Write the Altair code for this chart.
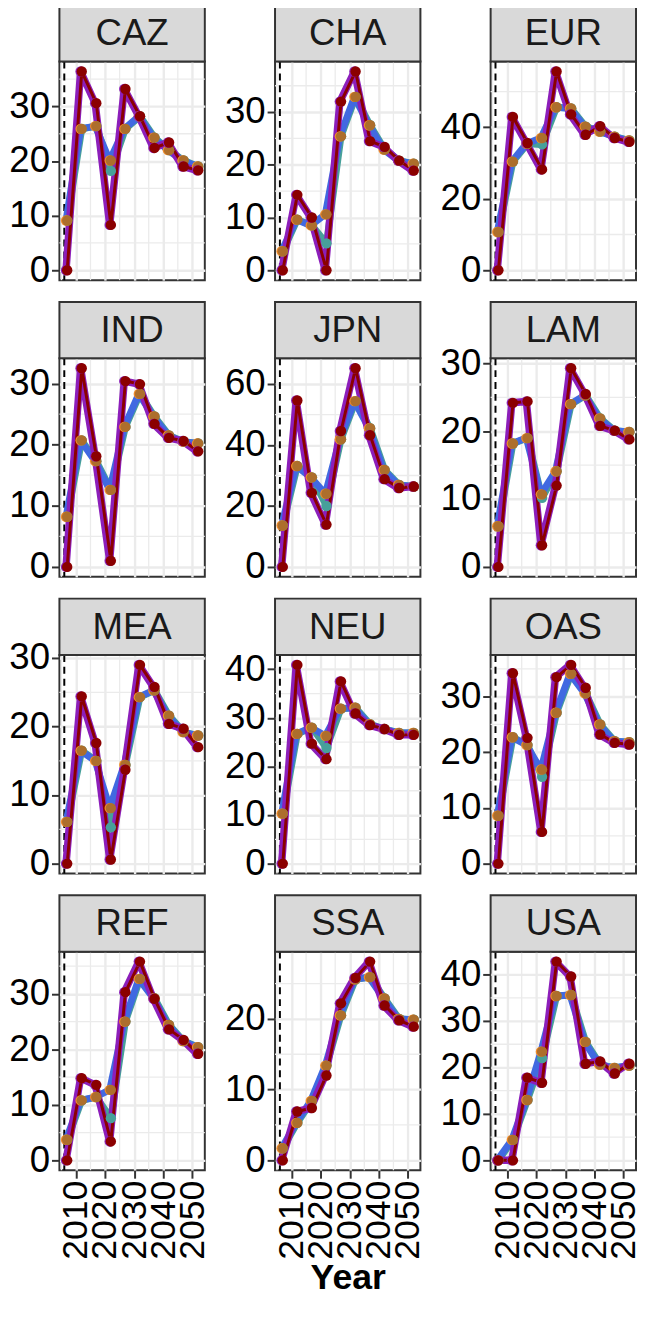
import altair as alt
import pandas as pd

# ---------------- data ----------------
YEARS = [2005, 2010, 2015, 2020, 2025, 2030, 2035, 2040, 2045, 2050]
REGIONS = ["CAZ", "CHA", "EUR", "IND", "JPN", "LAM",
           "MEA", "NEU", "OAS", "REF", "SSA", "USA"]

# A: purple / dark red scenarios, B: blue / orange / brown scenarios, T: teal scenario
CAZ_A = [0, 36.4, 30.6, 8.3, 33.2, 28.2, 22.4, 23.4, 19.0, 18.3]
CAZ_B = [9.1, 25.9, 26.4, 20.1, 25.9, 28.2, 24.3, 22.0, 20.1, 19.0]
CAZ_T = [9.1, 25.9, 26.4, 18.2, 25.9, 28.2, 24.3, 22.0, 20.1, 19.0]

CHA_A = [0, 14.3, 10.0, 0, 32.0, 37.7, 24.5, 23.4, 20.8, 18.9]
CHA_B = [3.6, 9.6, 8.5, 10.6, 25.4, 32.9, 27.5, 22.9, 20.8, 20.2]
CHA_T = [3.6, 9.6, 8.5, 5.1, 25.4, 32.9, 27.5, 22.9, 20.8, 20.2]

EUR_A = [0, 42.9, 35.6, 28.2, 55.6, 43.6, 37.9, 40.3, 37.0, 35.9]
EUR_B = [10.7, 30.4, 35.4, 37.0, 45.6, 45.3, 40.2, 38.8, 37.4, 36.3]
EUR_T = [10.7, 30.4, 35.4, 35.2, 45.6, 45.3, 40.2, 38.8, 37.4, 36.3]

IND_A = [0, 32.5, 18.1, 1.0, 30.4, 29.9, 23.4, 21.1, 20.6, 18.9]
IND_B = [8.2, 20.7, 17.3, 12.6, 22.9, 28.3, 24.6, 21.5, 20.5, 20.2]
IND_T = [8.2, 20.7, 17.3, 12.6, 22.9, 28.3, 24.6, 21.5, 20.5, 20.2]

JPN_A = [0, 54.6, 24.3, 13.9, 44.6, 65.2, 43.2, 28.8, 25.9, 26.4]
JPN_B = [13.6, 33.1, 29.4, 24.0, 41.9, 54.4, 45.5, 31.8, 26.9, 26.4]
JPN_T = [13.6, 33.1, 29.4, 20.0, 41.9, 54.4, 45.5, 31.8, 26.9, 26.4]

LAM_A = [0, 24.2, 24.4, 3.2, 12.0, 29.3, 25.5, 20.8, 20.1, 18.8]
LAM_B = [6.0, 18.2, 19.0, 10.7, 14.1, 24.0, 25.3, 21.9, 20.1, 19.9]
LAM_T = [6.0, 18.2, 19.0, 10.2, 14.1, 24.0, 25.3, 21.9, 20.1, 19.9]

MEA_A = [0, 24.4, 17.6, 0.6, 13.7, 29.0, 25.8, 20.4, 19.7, 17.0]
MEA_B = [6.1, 16.5, 15.0, 8.1, 14.4, 24.3, 25.3, 21.6, 19.2, 18.7]
MEA_T = [6.1, 16.5, 15.0, 5.3, 14.4, 24.3, 25.3, 21.6, 19.2, 18.7]

NEU_A = [0, 40.9, 24.7, 21.5, 37.5, 30.9, 28.5, 27.7, 26.5, 26.5]
NEU_B = [10.3, 26.7, 28.0, 26.3, 31.9, 32.1, 28.7, 27.7, 26.9, 26.9]
NEU_T = [10.3, 26.7, 28.0, 23.8, 31.9, 32.1, 28.7, 27.7, 26.9, 26.9]

OAS_A = [0, 34.2, 22.6, 5.7, 33.5, 35.7, 31.6, 23.2, 21.7, 21.4]
OAS_B = [8.6, 22.7, 21.3, 16.9, 27.1, 34.1, 30.6, 25.0, 22.0, 21.8]
OAS_T = [8.6, 22.7, 21.3, 15.6, 27.1, 34.1, 30.6, 25.0, 22.0, 21.8]

REF_A = [0, 14.8, 13.6, 3.4, 30.3, 35.8, 29.1, 23.6, 21.7, 19.2]
REF_B = [3.7, 10.8, 11.4, 12.7, 25.0, 32.7, 29.2, 24.4, 21.5, 20.4]
REF_T = [3.7, 10.8, 11.4, 7.6, 25.0, 32.7, 29.2, 24.4, 21.5, 20.4]

SSA_A = [0, 6.9, 7.4, 12.0, 22.2, 25.8, 28.1, 21.9, 19.8, 18.9]
SSA_B = [1.7, 5.3, 8.4, 13.4, 20.5, 25.6, 25.9, 22.9, 20.0, 19.9]
SSA_T = [1.7, 5.3, 8.4, 13.4, 20.5, 25.6, 25.9, 22.9, 20.0, 19.9]

USA_A = [0, 0, 17.8, 16.7, 42.8, 39.6, 20.8, 21.3, 18.7, 20.8]
USA_B = [0, 4.4, 13.0, 23.4, 35.4, 35.6, 25.5, 20.6, 19.9, 20.4]
USA_T = [0, 4.4, 13.0, 22.0, 35.4, 35.6, 25.5, 20.6, 19.9, 20.4]

# y tick labels per panel
CAZ_TICKS = [0, 10, 20, 30]
CHA_TICKS = [0, 10, 20, 30]
EUR_TICKS = [0, 20, 40]
IND_TICKS = [0, 10, 20, 30]
JPN_TICKS = [0, 20, 40, 60]
LAM_TICKS = [0, 10, 20, 30]
MEA_TICKS = [0, 10, 20, 30]
NEU_TICKS = [0, 10, 20, 30, 40]
OAS_TICKS = [0, 10, 20, 30]
REF_TICKS = [0, 10, 20, 30]
SSA_TICKS = [0, 10, 20]
USA_TICKS = [0, 10, 20, 30, 40]

X_TICKS = [2010, 2020, 2030, 2040, 2050]
X_MINOR = [2005, 2015, 2025, 2035, 2045]
VLINE_YEAR = [2006]

# ---------------- styling ----------------
FONT = "Liberation Sans"
FS = 37      # y labels and strip text
FSX = 36     # x labels and x title
W, H, STRIP_H = 147, 221, 57
DODGE = {"purple": 1.6, "darkred": 2.0, "blue": 1.6, "teal": 2.0,
         "orange": 1.6, "brown": 2.0}
COLORS = {"purple": "#8C1EBA", "darkred": "#8B0000", "blue": "#4169E1",
          "teal": "#47A09A", "orange": "#F28C28", "brown": "#AD6E2C"}
SOURCE = {"purple": "A", "darkred": "A", "blue": "B", "teal": "T",
          "orange": "B", "brown": "B"}

g = globals()
rows = []
for r in REGIONS:
    for s, src in SOURCE.items():
        vals = g[f"{r}_{src}"]
        for yr, v in zip(YEARS, vals):
            rows.append({"region": r, "series": s, "year": yr,
                         "x": yr + DODGE[s], "value": v})
df = pd.DataFrame(rows)

xmin, xmax = df["x"].min(), df["x"].max()
xr = xmax - xmin
XDOM = [xmin - 0.05 * xr, xmax + 0.05 * xr]

GRID = "#EBEBEB"
AX = "#333333"


def panel(region, bottom, show_title):
    d = df[df.region == region]
    lo, hi = d["value"].min(), d["value"].max()
    rr = hi - lo
    ydom = [lo - 0.05 * rr, hi + 0.05 * rr]
    majors = g[f"{region}_TICKS"]
    step = majors[1] - majors[0]
    minors = [m + step / 2 for m in [majors[0] - step] + majors]
    minors = [m for m in minors if ydom[0] < m < ydom[1]]

    xs = alt.Scale(domain=XDOM, nice=False, zero=False)
    ys = alt.Scale(domain=ydom, nice=False, zero=False)
    if bottom:
        xaxis = alt.Axis(values=X_TICKS, format="d", labelAngle=270,
                         labelAlign="right", labelBaseline="middle",
                         labelFontSize=FSX, labelColor="black", labelFont=FONT,
                         labelPadding=2, labelOverlap=False, labelFlush=False,
                         ticks=True, tickSize=8, tickWidth=2, tickColor=AX,
                         domain=False, grid=True, gridColor=GRID, gridWidth=2.4,
                         title="Year" if show_title else None,
                         titleFontSize=FSX, titleFontWeight="bold",
                         titleFont=FONT, titleColor="black", titlePadding=1)
    else:
        xaxis = alt.Axis(values=X_TICKS, labels=False, ticks=False, domain=False,
                         grid=True, gridColor=GRID, gridWidth=2.4, title=None)
    yaxis = alt.Axis(values=majors, format="d", labelFontSize=FS,
                     labelColor="black", labelFont=FONT, labelPadding=2,
                     labelOverlap=False, labelFlush=False,
                     ticks=True, tickSize=8, tickWidth=2, tickColor=AX,
                     domain=False, grid=True, gridColor=GRID, gridWidth=2.4,
                     title=None)

    def X(field):
        return alt.X(f"{field}:Q", scale=xs, axis=xaxis)

    def Y(field):
        return alt.Y(f"{field}:Q", scale=ys, axis=yaxis)

    base = alt.Chart(d)
    layers = []
    layers.append(alt.Chart(pd.DataFrame({"gx": X_MINOR})).mark_rule(
        color=GRID, strokeWidth=1.3).encode(x=X("gx")))
    layers.append(alt.Chart(pd.DataFrame({"gy": minors})).mark_rule(
        color=GRID, strokeWidth=1.3).encode(y=Y("gy")))
    layers.append(alt.Chart(pd.DataFrame({"vx": VLINE_YEAR})).mark_rule(
        color="black", strokeWidth=2, strokeDash=[7, 5]).encode(x=X("vx")))
    for s, w in [("teal", 7), ("blue", 7), ("purple", 7.5), ("darkred", 3)]:
        layers.append(base.transform_filter(alt.datum.series == s).mark_line(
            color=COLORS[s], strokeWidth=w, strokeJoin="round").encode(
            x=X("x"), y=Y("value")))
    for s in ["teal", "orange", "brown", "purple", "darkred"]:
        layers.append(base.transform_filter(alt.datum.series == s).mark_circle(
            color=COLORS[s], opacity=1, size=110).encode(x=X("x"), y=Y("value")))
    strip = alt.Chart(pd.DataFrame({"region": [region]}))
    layers.append(strip.mark_rect(fill="#D9D9D9", stroke=AX, strokeWidth=2).encode(
        x=alt.value(0), x2=alt.value(W), y=alt.value(-STRIP_H), y2=alt.value(0)))
    layers.append(strip.mark_text(fontSize=FS, font=FONT, color="#1A1A1A",
                                  baseline="middle", align="center").encode(
        x=alt.value(W / 2), y=alt.value(-STRIP_H / 2 + 1), text="region:N"))
    return alt.layer(*layers).properties(width=W, height=H)


panels = [panel(r, k >= 9, k == 10) for k, r in enumerate(REGIONS)]

chart = alt.concat(*panels, columns=3, bounds="flush",
                   spacing={"row": 300 - H, "column": 71}).configure(
    font=FONT,
    padding={"left": -1, "top": -12, "right": -6, "bottom": -4}
).configure_view(stroke=AX, strokeWidth=2, fill="white")

chart.save("out.html", embed_options={"renderer": "svg", "actions": False})
